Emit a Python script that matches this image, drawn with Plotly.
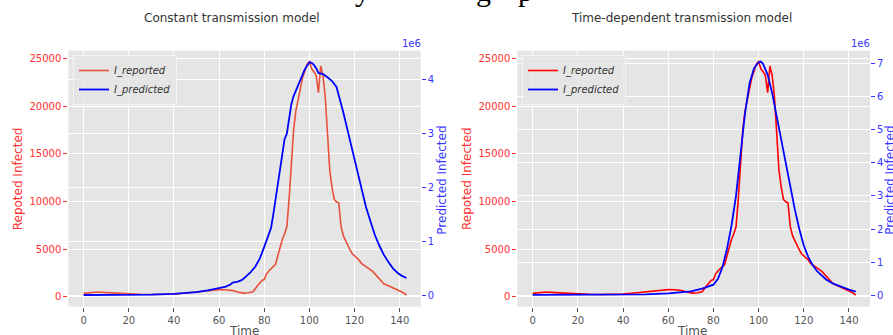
import plotly.graph_objects as go

W, H = 893, 335

# ---------------- data ----------------
rep_t = [0, 3, 6, 10, 15, 20, 25, 30, 35, 40, 45, 50, 55, 60, 63, 66, 69, 71, 73, 75,
         77, 79, 80, 81, 82, 84, 85, 86, 87, 88, 89, 90, 91, 92, 93, 94, 95, 96, 97, 98,
         99, 100, 101, 102, 103, 104, 105, 106, 107, 108, 109, 110, 111, 112, 113, 114,
         115, 116, 117, 118, 119, 120, 121, 122, 123, 124, 126, 128, 130, 132, 133, 135,
         137, 139, 141, 143]
rep_val = [350, 450, 490, 430, 350, 280, 260, 230, 230, 270, 380, 520, 640, 740, 720, 640,
           450, 380, 420, 520, 1150, 1700, 1800, 2400, 2700, 3100, 3400, 4300, 5200, 6000,
           6600, 7300, 10200, 14300, 17500, 19500, 20700, 21800, 23000, 23700, 24400, 24650,
           23900, 23600, 23200, 21400, 24200, 23200, 21000, 17200, 13300, 11500, 10200, 9950,
           9850, 7400, 6400, 5900, 5300, 4900, 4500, 4300, 4000, 3850, 3500, 3300, 3000,
           2650, 2100, 1600, 1350, 1150, 950, 700, 500, 175]

pc_t = [0, 10, 20, 30, 40, 45, 50, 55, 58, 61, 63, 65, 66, 68, 70, 72, 74, 76, 78, 80,
        82, 83, 84, 85, 86, 87, 88, 89, 90, 91, 92, 93, 94, 96, 98, 100, 101, 102, 103,
        104, 106, 108, 110, 112, 113, 115, 117, 119, 121, 123, 125, 127, 129, 131, 133,
        135, 137, 139, 141, 143]
pc_val = [0.005, 0.005, 0.008, 0.012, 0.025, 0.04, 0.06, 0.09, 0.12, 0.14, 0.16, 0.2,
          0.235, 0.25, 0.28, 0.35, 0.43, 0.53, 0.68, 0.9, 1.15, 1.25, 1.5, 1.8, 2.05, 2.4,
          2.7, 2.9, 3.0, 3.3, 3.55, 3.7, 3.8, 4.0, 4.2, 4.33, 4.32, 4.28, 4.22, 4.13, 4.11,
          4.05, 3.98, 3.87, 3.72, 3.4, 3.05, 2.7, 2.35, 1.98, 1.65, 1.38, 1.12, 0.92, 0.75,
          0.62, 0.5, 0.42, 0.36, 0.32]

pt_t = [0, 20, 40, 50, 60, 65, 70, 75, 78, 80, 82, 84, 86, 88, 90, 92, 94, 96, 98, 100,
        101, 102, 104, 106, 108, 110, 112, 114, 116, 118, 120, 122, 124, 126, 128, 130,
        133, 136, 140, 143]
pt_val = [0.01, 0.01, 0.02, 0.03, 0.06, 0.08, 0.12, 0.2, 0.27, 0.32, 0.5, 0.85, 1.4, 2.1,
          3.0, 4.3, 5.5, 6.4, 6.85, 7.03, 7.05, 6.98, 6.65, 6.1, 5.4, 4.65, 3.95, 3.25, 2.6,
          2.0, 1.5, 1.15, 0.9, 0.72, 0.58, 0.47, 0.35, 0.27, 0.17, 0.11]

x_ticks = [0, 20, 40, 60, 80, 100, 120, 140]
rep_ticks = [0, 5000, 10000, 15000, 20000, 25000]
pc_ticks = [0, 1, 2, 3, 4]
pt_ticks = [0, 1, 2, 3, 4, 5, 6, 7]

titles = ["Constant transmission model", "Time-dependent transmission model"]

# ---------------- styling ----------------
FONT = "DejaVu Sans"
RED_TXT = "#ff3030"
BLUE_TXT = "#3535ff"
GRAY = "#555555"
BG = "#E5E5E5"

def px(x):
    return x / W

def py(y):
    return 1 - y / H

L1, R1 = 68.3, 420.7
L2, R2 = 517.3, 870.0
TOP, BOT = 50.7, 306.7
ydom = [py(BOT), py(TOP)]
xr = [-6.8, 149.3]

fig = go.Figure()

fig.add_trace(go.Scatter(x=rep_t, y=rep_val, mode="lines", name="I_reported",
                         line=dict(color="#E8503A", width=1.6), xaxis="x", yaxis="y",
                         legend="legend"))
fig.add_trace(go.Scatter(x=pc_t, y=pc_val, mode="lines", name="I_predicted",
                         line=dict(color="#0000ff", width=1.8), xaxis="x", yaxis="y2",
                         legend="legend"))
fig.add_trace(go.Scatter(x=rep_t, y=rep_val, mode="lines", name="I_reported",
                         line=dict(color="#ff0000", width=1.6), xaxis="x2", yaxis="y3",
                         legend="legend2"))
fig.add_trace(go.Scatter(x=pt_t, y=pt_val, mode="lines", name="I_predicted",
                         line=dict(color="#0000ff", width=1.8), xaxis="x2", yaxis="y4",
                         legend="legend2"))

def xaxis(dom, anchor):
    return dict(domain=dom, anchor=anchor, range=xr, tickvals=x_ticks,
                showgrid=True, gridcolor="white", gridwidth=1.2, zeroline=False,
                ticks="outside", ticklen=4, tickcolor=GRAY, tickwidth=1,
                tickfont=dict(family=FONT, size=10, color=GRAY), showline=False)

def yleft(anchor):
    return dict(domain=ydom, anchor=anchor, range=[-1050, 25800], tickvals=rep_ticks,
                tickformat="d", showgrid=True, gridcolor="white", gridwidth=1.2,
                zeroline=False, ticks="outside", ticklen=4, tickcolor=RED_TXT,
                tickfont=dict(family=FONT, size=10, color=RED_TXT), showline=False)

def yright(anchor, overlay, rng, tv):
    return dict(overlaying=overlay, side="right", anchor=anchor, range=rng, tickvals=tv,
                showgrid=True, gridcolor="white", gridwidth=1.2, zeroline=False,
                ticks="outside", ticklen=4, tickcolor=BLUE_TXT,
                tickfont=dict(family=FONT, size=10, color=BLUE_TXT), showline=False)

legend_common = dict(bgcolor="rgba(229,229,229,0.8)", bordercolor="rgba(245,245,245,0.9)",
                     borderwidth=1, font=dict(family=FONT, size=10, color="#333333",
                                              style="italic"),
                     xanchor="left", yanchor="top", itemwidth=30, tracegroupgap=0)

fig.update_layout(
    width=W, height=H, margin=dict(l=0, r=0, t=0, b=0),
    paper_bgcolor="white", plot_bgcolor=BG,
    xaxis=xaxis([px(L1), px(R1)], "y"),
    yaxis=yleft("x"),
    yaxis2=yright("x", "y", [-0.212, 4.544], pc_ticks),
    xaxis2=xaxis([px(L2), px(R2)], "y3"),
    yaxis3=yleft("x2"),
    yaxis4=yright("x2", "y3", [-0.344, 7.38], pt_ticks),
    legend=dict(x=px(73), y=py(55), **legend_common),
    legend2=dict(x=px(522), y=py(55), **legend_common),
    showlegend=True,
)

ann = []

def text(t, cx, cy, size, color, angle=0, family=FONT):
    ann.append(dict(text=t, x=px(cx), y=py(cy), xref="paper", yref="paper",
                    xanchor="center", yanchor="middle", textangle=angle,
                    showarrow=False, borderpad=0,
                    font=dict(family=family, size=size, color=color)))

# titles
text(titles[0], 231.7, 18, 12, "#333333")
text(titles[1], 681, 18, 12, "#333333")
# axis titles
text("Repoted Infected", 18.3, 179, 12, RED_TXT, -90)
text("Predicted Infected", 441.7, 180, 12, BLUE_TXT, -90)
text("Repoted Infected", 467.0, 179, 12, RED_TXT, -90)
text("Predicted Infected", 889.7, 180, 12, BLUE_TXT, -90)
text("Time", 244, 331, 12, GRAY)
text("Time", 692, 331, 12, GRAY)
text("1e6", 411.7, 43.3, 10, BLUE_TXT)
text("1e6", 860.7, 43.3, 10, BLUE_TXT)

# cut-off caption text at the very top of the page (only descenders visible)
for cx, t in [(362, "y"), (483.5, "g"), (525, "p")]:
    ann.append(dict(text=t, x=px(cx), y=py(8), xref="paper", yref="paper",
                    xanchor="center", yanchor="bottom", borderpad=0, showarrow=False,
                    font=dict(family="Liberation Serif", size=30, color="black")))

fig.update_layout(annotations=ann)

fig.write_html("out.html")
